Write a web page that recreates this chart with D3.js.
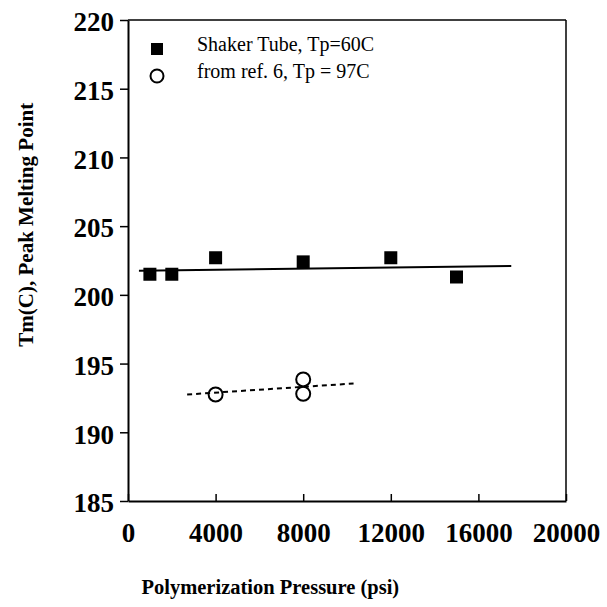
<!DOCTYPE html>
<meta charset="utf-8">
<script src="https://d3js.org/d3.v7.min.js"></script>
<style>
  body { margin: 0; background: #fff; }
  text { font-family: "Liberation Serif", "Times New Roman", serif; fill: #000; }
</style>
<div id="chart"></div>
<script>
// data
const shakerX = [1000, 2000, 4000, 8000, 12000, 15000];
const shakerY = [201.5, 201.5, 202.7, 202.4, 202.7, 201.3];
const refX = [4000, 8000, 8000];
const refY = [192.75, 193.85, 192.8];
// fitted trend lines (end points)
const shakerFitX = [500, 17500];
const shakerFitY = [201.75, 202.1];
const refFitX = [2700, 10300];
const refFitY = [192.75, 193.55];
const xTicks = [0, 4000, 8000, 12000, 16000, 20000];
const yTicks = [185, 190, 195, 200, 205, 210, 215, 220];
const legendLabels = ["Shaker Tube, Tp=60C", "from ref. 6, Tp = 97C"];

const W = 607, H = 607;
const margin = { top: 20, right: 41, bottom: 106, left: 128 };
const width = W - margin.left - margin.right,
      height = H - margin.top - margin.bottom;

const svg = d3.select("#chart").append("svg")
  .attr("width", W).attr("height", H);
const g = svg.append("g")
  .attr("transform", `translate(${margin.left},${margin.top})`);

const x = d3.scaleLinear().domain([0, 20000]).range([0, width]);
const y = d3.scaleLinear().domain([185, 220]).range([height, 0]);

// frame (top and right)
g.append("line").attr("x1", 0).attr("x2", width).attr("y1", 0).attr("y2", 0)
  .attr("stroke", "#000").attr("stroke-width", 1.5);
g.append("line").attr("x1", width).attr("x2", width).attr("y1", 0).attr("y2", height)
  .attr("stroke", "#000").attr("stroke-width", 1.5);

// x axis, ticks pointing inward
const xAxis = g.append("g").attr("transform", `translate(0,${height})`)
  .call(d3.axisBottom(x).tickValues(xTicks).tickSizeInner(-7).tickSizeOuter(0)
    .tickPadding(22).tickFormat(d3.format("d")));
// y axis, ticks outward
const yAxis = g.append("g")
  .call(d3.axisLeft(y).tickValues(yTicks).tickSizeInner(8).tickSizeOuter(0)
    .tickPadding(6).tickFormat(d3.format("d")));

[xAxis, yAxis].forEach(a => {
  a.select(".domain").attr("stroke-width", 2);
  a.selectAll(".tick line").attr("stroke-width", 1.5);
  a.selectAll("text").attr("font-size", 27).attr("font-weight", "bold")
    .attr("font-family", "Liberation Serif, serif");
});
xAxis.selectAll("text").attr("dy", "0.71em");
yAxis.selectAll("text").attr("dy", "0.4em");

// trend lines
const line = d3.line().x(d => x(d[0])).y(d => y(d[1]));
g.append("path").datum(d3.zip(shakerFitX, shakerFitY))
  .attr("d", line).attr("fill", "none").attr("stroke", "#000").attr("stroke-width", 2);
g.append("path").datum(d3.zip(refFitX, refFitY))
  .attr("d", line).attr("fill", "none").attr("stroke", "#000").attr("stroke-width", 2)
  .attr("stroke-dasharray", "5,4");

// markers
const sq = 13;
g.selectAll(".sq").data(d3.zip(shakerX, shakerY)).join("rect")
  .attr("class", "sq")
  .attr("x", d => x(d[0]) - sq / 2).attr("y", d => y(d[1]) - sq / 2)
  .attr("width", sq).attr("height", sq).attr("fill", "#000");
g.selectAll(".ci").data(d3.zip(refX, refY)).join("circle")
  .attr("class", "ci")
  .attr("cx", d => x(d[0])).attr("cy", d => y(d[1])).attr("r", 7)
  .attr("fill", "none").attr("stroke", "#000").attr("stroke-width", 2);

// legend
const leg = g.append("g").attr("transform", "translate(29,29)");
leg.append("rect").attr("x", -6).attr("y", -6).attr("width", 12).attr("height", 12).attr("fill", "#000");
leg.append("circle").attr("cx", 0).attr("cy", 27).attr("r", 6.5)
  .attr("fill", "none").attr("stroke", "#000").attr("stroke-width", 2);
leg.selectAll("text").data(legendLabels).join("text")
  .attr("x", 40).attr("y", (d, i) => i * 27).attr("dy", "0.1em")
  .attr("font-size", 20).text(d => d);

// axis titles
svg.append("text").attr("x", margin.left + x(6500)).attr("y", 594)
  .attr("text-anchor", "middle").attr("font-size", 20.5).attr("font-weight", "bold")
  .text("Polymerization Pressure (psi)");
svg.append("text")
  .attr("transform", `translate(33,${margin.top + y(205.1)}) rotate(-90)`)
  .attr("text-anchor", "middle").attr("font-size", 21).attr("font-weight", "bold")
  .text("Tm(C), Peak Melting Point");
</script>
